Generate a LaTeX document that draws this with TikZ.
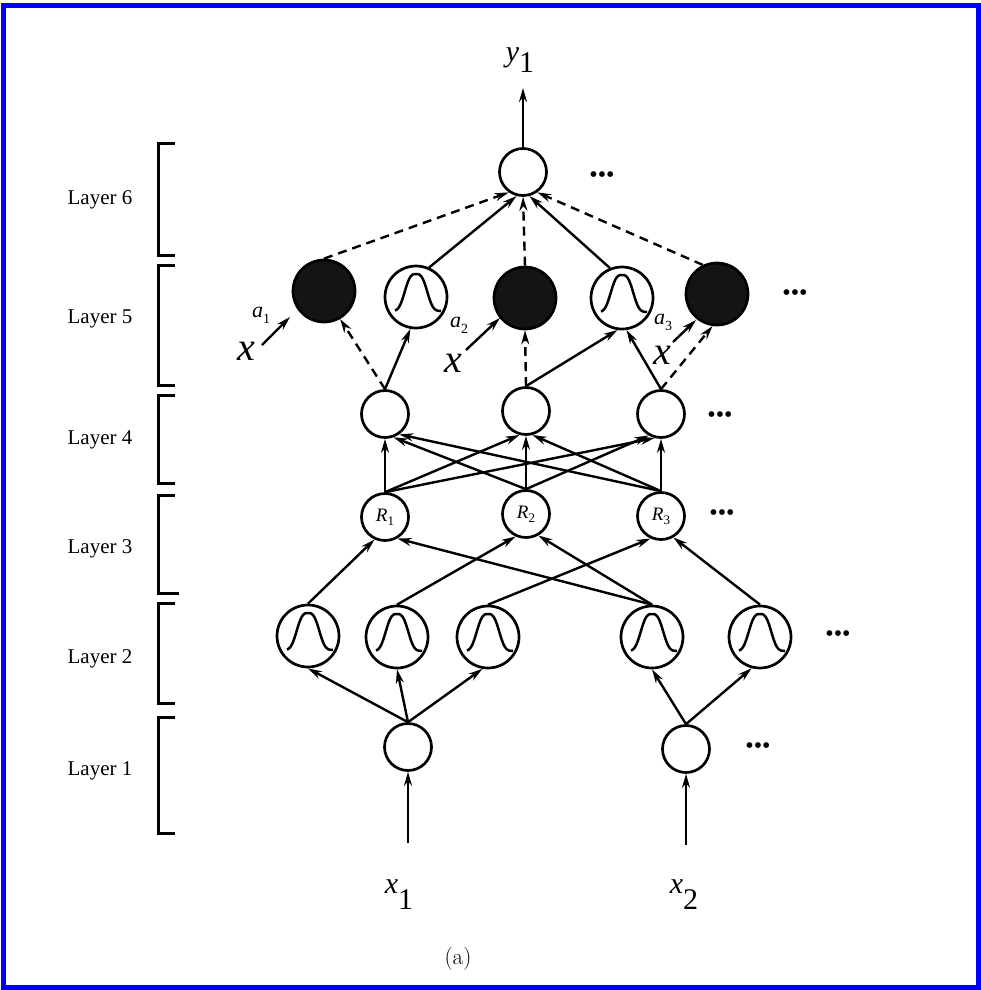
\documentclass[tikz,border=0pt]{standalone}
\usepackage{fontspec}
\setmainfont{Liberation Serif}
\newfontfamily\lmr{Latin Modern Roman}
\usetikzlibrary{arrows.meta}
\begin{document}
\begin{tikzpicture}[x=1pt,y=-1pt,
  nrn/.style={circle,draw,line width=2.7pt,inner sep=0pt},
  small/.style={nrn,minimum size=47pt},
  big/.style={nrn,minimum size=62pt},
  blk/.style={big,fill=black!92},
  gauss/.style={big,path picture={\draw[line width=2.5pt,shift={(path picture bounding box.center)}]
      plot[domain=-21:25,samples=60,smooth] (\x,{14-37*exp(0-(abs(\x)/13)^3)});}},
  conn/.style={line width=2.4pt,-{Stealth[length=14pt,width=8pt]}},
  dconn/.style={conn,dash pattern=on 9pt off 6pt},
  brk/.style={line width=3pt},
  lay/.style={anchor=base,font=\fontsize{21}{21}\selectfont,inner sep=0pt},
  dots/.style={font=\fontsize{24}{24}\selectfont,inner sep=0pt},
  bigx/.style={font=\fontsize{40}{40}\selectfont\itshape,inner sep=0pt},
  alab/.style={anchor=base,font=\fontsize{22}{22}\selectfont,inner sep=0pt},
  io/.style={anchor=base,font=\fontsize{30}{30}\selectfont,inner sep=0pt}
]
\useasboundingbox (0,0) rectangle (981,990);
\fill[white] (0,0) rectangle (981,990);
\draw[blue,line width=5pt] (3,6) rectangle (978,987);

% brackets and layer labels
\draw[brk] (175,143) -- (158,143) -- (158,255) -- (175,255);
\draw[brk] (175,265) -- (158,265) -- (158,385) -- (175,385);
\draw[brk] (175,395) -- (158,395) -- (158,483) -- (175,483);
\draw[brk] (175,495) -- (158,495) -- (158,593) -- (179,593);
\draw[brk] (175,603) -- (158,603) -- (158,703) -- (175,703);
\draw[brk] (175,717) -- (158,717) -- (158,833) -- (175,833);
\node[lay] (ly6) at (100,204) {Layer 6};
\node[lay] (ly5) at (100,323) {Layer 5};
\node[lay] (ly4) at (100,444) {Layer 4};
\node[lay] (ly3) at (100,553) {Layer 3};
\node[lay] (ly2) at (100,663) {Layer 2};
\node[lay] (ly1) at (100,775) {Layer 1};

% nodes
\node[small] (top) at (523,172) {};
\node[blk] (B1) at (324,291) {};
\node[gauss] (G51) at (416,297) {};
\node[blk] (B2) at (525,298) {};
\node[gauss] (G52) at (622,298) {};
\node[blk] (B3) at (717,294) {};
\node[small] (L4a) at (385,414) {};
\node[small] (L4b) at (526,411) {};
\node[small] (L4c) at (661,414) {};
\node[small,font=\fontsize{19}{19}\selectfont] (R1) at (385,517) {\textit{R}\raisebox{-4pt}{\fontsize{13}{13}\selectfont 1}};
\node[small,font=\fontsize{19}{19}\selectfont] (R2) at (526,514) {\textit{R}\raisebox{-4pt}{\fontsize{13}{13}\selectfont 2}};
\node[small,font=\fontsize{19}{19}\selectfont] (R3) at (661,516) {\textit{R}\raisebox{-4pt}{\fontsize{13}{13}\selectfont 3}};
\node[gauss] (G1) at (308,636) {};
\node[gauss] (G2) at (397,637) {};
\node[gauss] (G3) at (488,637) {};
\node[gauss] (G4) at (652,637) {};
\node[gauss] (G5) at (760,637) {};
\node[small] (L1a) at (408,747) {};
\node[small] (L1b) at (686,749) {};

% dots
\node[dots] (d6) at (602,177) {•••};
\node[dots] (d5) at (795,295) {•••};
\node[dots] (d4) at (720,417) {•••};
\node[dots] (d3) at (722,515) {•••};
\node[dots] (d2) at (838,636) {•••};
\node[dots] (d1) at (758,748) {•••};

% input / output labels
\node[io] (y1) at (520,62) {\textit{y}\raisebox{-11pt}{1}};
\node[io] (x1) at (399,893) {\textit{x}\raisebox{-16pt}{1}};
\node[io] (x2) at (684,893) {\textit{x}\raisebox{-16pt}{2}};
\coordinate (yend) at (523,88);
\coordinate (x1s) at (408,843);
\coordinate (x2s) at (686,845);
\draw[conn] (top.north) -- (yend);
\draw[conn] (x1s) -- (L1a.south);
\draw[conn] (x2s) -- (L1b.south);

% x^{a_i} inputs of layer 5
\node[bigx] (xa1) at (246,351) {x};
\node[bigx] (xa2) at (453,363) {x};
\node[bigx] (xa3) at (662,355) {x};
\node[alab] (a1) at (261,317) {\textit{a}\raisebox{-6pt}{\fontsize{14}{14}\selectfont 1}};
\node[alab] (a2) at (459,327) {\textit{a}\raisebox{-6pt}{\fontsize{14}{14}\selectfont 2}};
\node[alab] (a3) at (663,324) {\textit{a}\raisebox{-6pt}{\fontsize{14}{14}\selectfont 3}};
\coordinate (p1s) at (262,345); \coordinate (p1e) at (290,317);
\coordinate (p2s) at (466,350); \coordinate (p2e) at (500,318);
\coordinate (p3s) at (673,342); \coordinate (p3e) at (696,320);
\draw[conn] (p1s) -- (p1e);
\draw[conn] (p2s) -- (p2e);
\draw[conn] (p3s) -- (p3e);

% layer 1 -> 2
\draw[conn] (L1a.north) -- (G1.south);
\draw[conn] (L1a.north) -- (G2.south);
\draw[conn] (L1a.north) -- (G3.260);
\draw[conn] (L1b.north) -- (G4.south);
\draw[conn] (L1b.north) -- (G5.255);

% layer 2 -> 3
\draw[conn] (G1.north) -- (R1.245);
\draw[conn] (G2.north) -- (R2.245);
\draw[conn] (G3.north) -- (R3.245);
\draw[conn] (G4.north) -- (R1.300);
\draw[conn] (G4.north) -- (R2.300);
\draw[conn] (G5.north) -- (R3.300);

% layer 3 -> 4
\draw[conn] (R1.north) -- (L4a.south);
\draw[conn] (R1.north) -- (L4b.255);
\draw[conn] (R1.north) -- (L4c.255);
\draw[conn] (R2.north) -- (L4a.290);
\draw[conn] (R2.north) -- (L4b.south);
\draw[conn] (R2.north) -- (L4c.240);
\draw[conn] (R3.north) -- (L4a.305);
\draw[conn] (R3.north) -- (L4b.285);
\draw[conn] (R3.north) -- (L4c.south);

% layer 4 -> 5
\draw[dconn] (L4a.north) -- (B1.300);
\draw[conn] (L4a.north) -- (G51.260);
\draw[dconn] (L4b.north) -- (B2.south);
\draw[conn] (L4b.north) -- (G52.262);
\draw[conn] (L4c.north) -- (G52.278);
\draw[dconn] (L4c.north) -- (B3.262);

% layer 5 -> 6
\draw[dconn] (B1.north) -- (top.235);
\draw[conn] (G51.66) -- (top.255);
\draw[dconn] (B2.north) -- (top.south);
\draw[conn] (G52.112) -- (top.285);
\draw[dconn] (B3.116) -- (top.305);

% caption
\node[font=\lmr\fontsize{23}{23}\selectfont] (cap) at (458,959) {(a)};
\end{tikzpicture}
\end{document}
